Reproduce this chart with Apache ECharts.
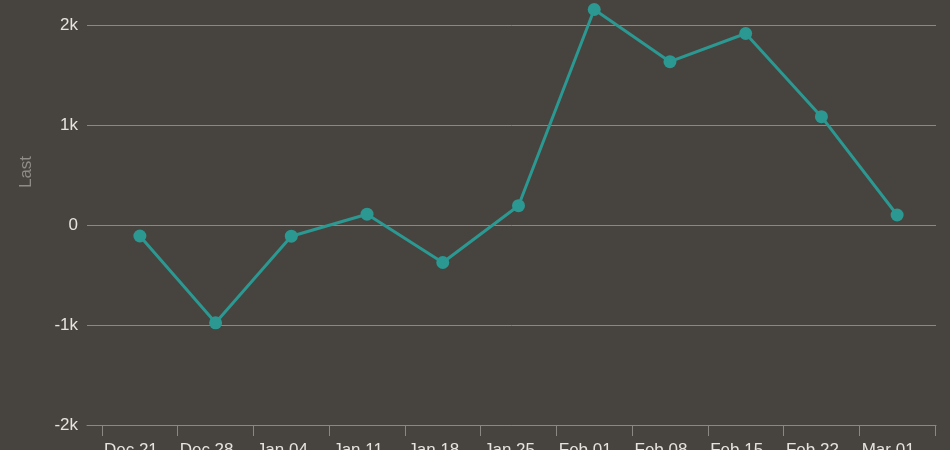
<!DOCTYPE html>
<html>
<head>
<meta charset="utf-8">
<script src="https://cdn.jsdelivr.net/npm/echarts@6/dist/echarts.min.js"></script>
<style>
html,body{margin:0;padding:0;background:#47433f;}
#c{width:950px;height:450px;}
</style>
</head>
<body>
<div id="c"></div>
<script>
var categories = ['Dec 21','Dec 28','Jan 04','Jan 11','Jan 18','Jan 25','Feb 01','Feb 08','Feb 15','Feb 22','Mar 01'];
var lastValues = [-110, -978, -112, 108, -375, 193, 2155, 1633, 1915, 1083, 100];
var yTicks = {min: -2000, max: 2000, interval: 1000};
var yAxisName = 'Last';

var chart = echarts.init(document.getElementById('c'), null, {renderer: 'canvas'});
var font = 'Liberation Sans, Arial, sans-serif';
var gridColor = '#8b8782';
chart.setOption({
  backgroundColor: '#47433f',
  animation: false,
  grid: [
    {left: 87, right: 14, top: 25, bottom: 25, outerBoundsMode: 'none', containLabel: false},
    {left: 102, right: 15, top: 25, bottom: 25, outerBoundsMode: 'none', containLabel: false}
  ],
  xAxis: [
    {gridIndex: 0, type: 'category', data: categories,
     axisLine: {show: true, onZero: false, lineStyle: {color: gridColor, width: 1}},
     axisTick: {show: false}, axisLabel: {show: false}, splitLine: {show: false}},
    {gridIndex: 1, type: 'category', data: categories, boundaryGap: true,
     axisLine: {show: false, onZero: false},
     axisTick: {show: true, length: 11, lineStyle: {color: gridColor, width: 1}},
     axisLabel: {color: '#e6e3df', fontSize: 17, fontFamily: font, margin: 17, padding: [0, 18, 0, 0], interval: 0, hideOverlap: false},
     splitLine: {show: false}}
  ],
  yAxis: [
    {gridIndex: 0, type: 'value', min: yTicks.min, max: yTicks.max, interval: yTicks.interval,
     name: yAxisName, nameLocation: 'middle', nameGap: 52,
     nameTextStyle: {color: '#8f8b86', fontSize: 17, fontFamily: font, padding: [0, 0, 0, 106]},
     axisLine: {show: false}, axisTick: {show: false},
     axisLabel: {color: '#e6e3df', fontSize: 17, fontFamily: font, margin: 9, padding: [4, 0, 0, 0],
       formatter: function (v) { return v === 0 ? '0' : (v / 1000) + 'k'; }},
     splitLine: {show: true, lineStyle: {color: gridColor, width: 1}}},
    {gridIndex: 1, type: 'value', min: yTicks.min, max: yTicks.max, interval: yTicks.interval,
     show: false, splitLine: {show: false}}
  ],
  series: [{
    type: 'line', xAxisIndex: 1, yAxisIndex: 1, data: lastValues, clip: false,
    symbol: 'circle', symbolSize: 13,
    lineStyle: {color: '#2b9892', width: 3},
    itemStyle: {color: '#2b9892'}
  }]
});
</script>
</body>
</html>
